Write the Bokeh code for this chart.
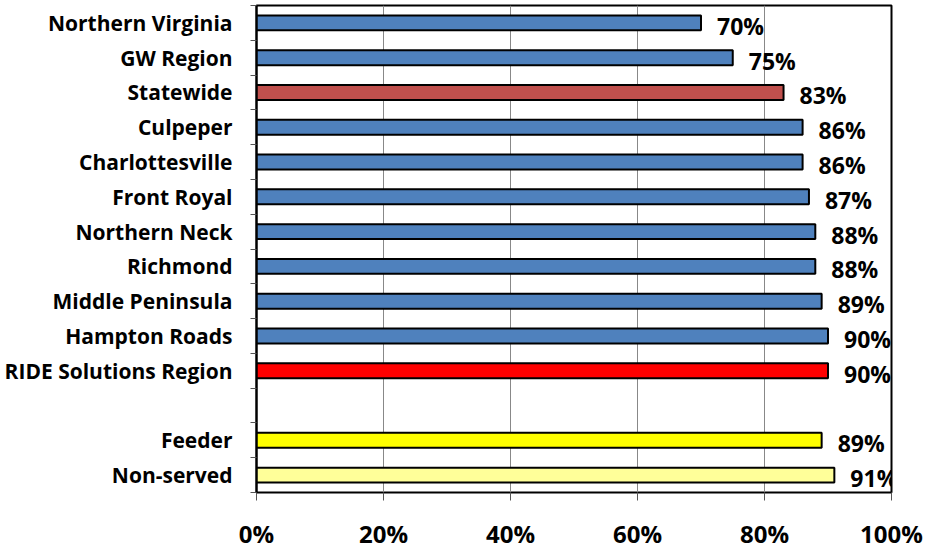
from bokeh.plotting import figure
from bokeh.models import Range1d, FixedTicker, ColumnDataSource, LabelSet
from bokeh.core.properties import value
from bokeh.embed import file_html
from bokeh.resources import INLINE

# Share of respondents per region (blank row separates the two groups)
categories = [
    "Northern Virginia", "GW Region", "Statewide", "Culpeper", "Charlottesville",
    "Front Royal", "Northern Neck", "Richmond", "Middle Peninsula", "Hampton Roads",
    "RIDE Solutions Region", "", "Feeder", "Non-served",
]
values = [70, 75, 83, 86, 86, 87, 88, 88, 89, 90, 90, None, 89, 91]
bar_colors = [
    "#4F81BD", "#4F81BD", "#C0504D", "#4F81BD", "#4F81BD", "#4F81BD", "#4F81BD",
    "#4F81BD", "#4F81BD", "#4F81BD", "#FF0000", None, "#FFFF00", "#FFFF99",
]
x_ticks = [0, 20, 40, 60, 80, 100]
x_tick_labels = ["0%", "20%", "40%", "60%", "80%", "100%"]

FONT = "Open Sans"
n = len(categories)

rows = [i for i, v in enumerate(values) if v is not None]
src = ColumnDataSource(dict(
    y=[i + 0.5 for i in rows],
    right=[values[i] for i in rows],
    color=[bar_colors[i] for i in rows],
    label=[f"{values[i]}%" for i in rows],
))

p = figure(
    frame_width=635, frame_height=487,
    x_range=Range1d(0, 100), y_range=Range1d(n, 0),
    output_backend="svg", toolbar_location=None,
    min_border_left=256, min_border_right=35, min_border_top=5, min_border_bottom=58,
)
p.outline_line_color = "black"
p.outline_line_width = 2

p.hbar(y="y", left=0, right="right", height=0.43, fill_color="color",
       line_color="black", line_width=2, source=src)

labels = LabelSet(x="right", y="y", text="label", source=src,
                  x_offset=16, y_offset=-3, text_baseline="middle",
                  text_font=value(FONT), text_font_style="bold",
                  text_font_size=value("23px"), text_color="black")
p.add_layout(labels)

# x axis
p.xaxis.ticker = FixedTicker(ticks=x_ticks)
p.xaxis.major_label_overrides = {t: l for t, l in zip(x_ticks, x_tick_labels)}
p.xaxis.major_label_text_font = FONT
p.xaxis.major_label_text_font_style = "bold"
p.xaxis.major_label_text_font_size = "24px"
p.xaxis.major_label_text_color = "black"
p.xaxis.major_label_standoff = 16
p.xaxis.major_tick_out = 8
p.xaxis.major_tick_in = 0
p.xaxis.minor_tick_line_color = None
p.xaxis.axis_line_color = None
p.xaxis.major_tick_line_color = "#555555"

# y axis: labels at row centres, ticks at row boundaries
centers = [i + 0.5 for i in range(n)]
p.yaxis.ticker = FixedTicker(ticks=centers, minor_ticks=list(range(n + 1)))
p.yaxis.major_label_overrides = {c: name for c, name in zip(centers, categories)}
p.yaxis.major_label_text_font = FONT
p.yaxis.major_label_text_font_style = "bold"
p.yaxis.major_label_text_font_size = "21px"
p.yaxis.major_label_text_color = "black"
p.yaxis.major_label_standoff = 18
p.yaxis.major_tick_line_color = None
p.yaxis.minor_tick_out = 6
p.yaxis.minor_tick_in = 0
p.yaxis.minor_tick_line_color = "#555555"
p.yaxis.axis_line_color = "black"
p.yaxis.axis_line_width = 2

p.xgrid.ticker = FixedTicker(ticks=[20, 40, 60, 80])
p.xgrid.grid_line_color = "#888888"
p.xgrid.grid_line_width = 1
p.ygrid.grid_line_color = None

open("out.html", "w").write(file_html(p, INLINE))
